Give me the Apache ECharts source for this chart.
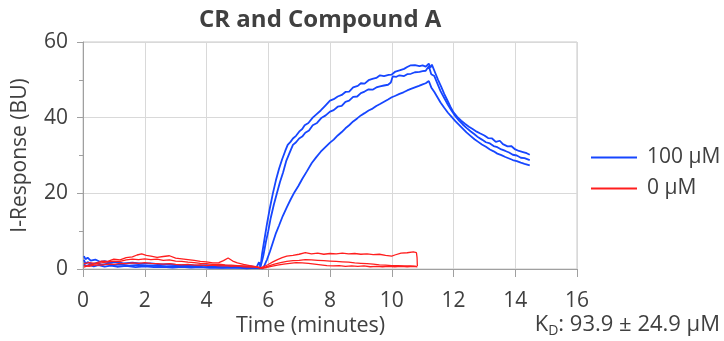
<!DOCTYPE html>
<html>
<head>
<meta charset="utf-8">
<script src="https://cdn.jsdelivr.net/npm/echarts@6/dist/echarts.min.js"></script>
<style>
  html, body { margin: 0; padding: 0; background: #fff; }
  #chart { width: 724px; height: 341px; }
</style>
</head>
<body>
<div id="chart"></div>
<script>
// axis ticks
const xTicks = [0, 2, 4, 6, 8, 10, 12, 14, 16];
const yTicks = [0, 20, 40, 60];

// 100 µM replicates, [time (min), response (BU)]
const blue1 = [[0.03,3.4],[0.08,2.6],[0.15,3.0],[0.25,2.2],[0.4,2.5],[0.55,1.9],[0.7,2.1],[0.9,1.6],[1.1,1.9],[1.3,1.5],[1.6,1.7],[1.9,1.4],[2.2,1.5],[2.5,1.2],[2.8,1.3],[3.1,1.0],[3.4,1.1],[3.7,0.9],[4.0,1.0],[4.3,0.8],[4.6,0.9],[4.9,0.7],[5.2,0.6],[5.45,0.7],[5.62,0.4],[5.7,1.8],[5.75,0.6],[5.8,4],[5.88,8],[5.96,12],[6.05,16],[6.15,20],[6.25,23.5],[6.35,26.5],[6.45,29],[6.55,31.2],[6.63,32.8],[6.72,33.6],[6.8,34.5],[6.9,35.2],[7.0,36.3],[7.1,37.0],[7.18,38.0],[7.3,38.6],[7.44,40.0],[7.55,40.8],[7.7,41.9],[7.85,43.2],[8.0,44.5],[8.12,44.9],[8.25,45.6],[8.38,46.0],[8.5,46.8],[8.62,46.9],[8.75,48.0],[8.9,48.4],[9.0,49.1],[9.12,49.0],[9.25,49.9],[9.4,50.3],[9.5,50.5],[9.62,51.2],[9.75,51.0],[9.9,51.3],[10.0,51.4],[10.12,52.2],[10.25,52.5],[10.4,52.9],[10.5,53.4],[10.6,53.8],[10.75,53.9],[10.9,53.6],[11.0,53.8],[11.1,53.5],[11.2,54.3],[11.25,53.2],[11.3,54.0],[11.4,52.0],[11.5,50.0],[11.6,48.2],[11.7,46.3],[11.8,44.6],[11.9,42.9],[12.0,41.4],[12.12,40.2],[12.25,39.2],[12.37,38.4],[12.5,37.6],[12.62,37.0],[12.75,36.3],[12.87,35.8],[13.0,35.3],[13.12,34.6],[13.25,34.5],[13.37,33.6],[13.5,33.9],[13.6,33.0],[13.75,32.4],[13.87,32.5],[14.0,31.6],[14.12,31.2],[14.25,30.9],[14.37,30.6],[14.47,30.2]];
const blue2 = [[0.03,2.4],[0.08,1.4],[0.15,1.8],[0.3,1.3],[0.45,1.6],[0.6,1.1],[0.8,1.4],[1.0,1.0],[1.2,1.2],[1.5,0.9],[1.8,1.1],[2.1,0.8],[2.4,0.9],[2.7,0.7],[3.0,0.8],[3.3,0.6],[3.6,0.7],[3.9,0.5],[4.2,0.6],[4.5,0.4],[4.8,0.5],[5.1,0.4],[5.4,0.3],[5.6,0.4],[5.72,0.2],[5.78,1.5],[5.84,3.5],[5.92,7],[6.0,10],[6.08,13.5],[6.18,17],[6.28,20],[6.38,23],[6.48,25.5],[6.58,28.5],[6.68,30.5],[6.8,32.8],[6.9,33.5],[7.0,34.5],[7.1,35.0],[7.2,36.0],[7.32,36.6],[7.44,38.0],[7.58,38.6],[7.73,40.0],[7.86,40.6],[8.0,41.6],[8.12,42.0],[8.25,42.9],[8.38,43.1],[8.5,44.2],[8.62,44.5],[8.75,45.5],[8.88,45.6],[9.0,46.5],[9.12,46.9],[9.25,47.5],[9.38,47.4],[9.5,48.0],[9.62,48.3],[9.75,48.5],[9.88,48.7],[9.97,49.3],[10.03,50.9],[10.15,50.8],[10.25,51.2],[10.4,51.0],[10.5,51.5],[10.62,51.6],[10.75,52.0],[10.9,52.1],[11.0,52.3],[11.1,52.4],[11.2,53.6],[11.28,51.5],[11.38,51.0],[11.48,49.0],[11.58,47.0],[11.7,45.2],[11.82,43.4],[11.94,41.8],[12.06,40.4],[12.18,39.2],[12.3,38.2],[12.42,37.3],[12.55,36.4],[12.68,35.6],[12.8,34.8],[12.92,34.2],[13.05,33.5],[13.18,33.2],[13.3,32.5],[13.42,32.2],[13.55,31.6],[13.68,31.2],[13.8,30.8],[13.92,30.2],[14.05,30.0],[14.18,29.4],[14.3,29.3],[14.47,28.8]];
const blue3 = [[0.03,1.2],[0.1,0.8],[0.2,1.1],[0.35,0.7],[0.5,1.0],[0.7,0.6],[0.9,0.9],[1.1,0.6],[1.4,0.8],[1.7,0.5],[2.0,0.7],[2.3,0.5],[2.6,0.6],[2.9,0.4],[3.2,0.6],[3.5,0.4],[3.8,0.5],[4.1,0.3],[4.4,0.4],[4.7,0.3],[5.0,0.4],[5.3,0.2],[5.6,0.3],[5.82,0.2],[5.88,1.0],[5.96,2.5],[6.05,4.5],[6.15,7.0],[6.25,9.5],[6.35,11.5],[6.47,14.0],[6.6,16.3],[6.72,18.3],[6.85,20.3],[6.98,22.0],[7.1,23.8],[7.25,25.8],[7.41,28.0],[7.55,29.5],[7.7,31.0],[7.85,32.2],[8.0,33.4],[8.12,34.2],[8.25,35.3],[8.38,36.2],[8.5,37.2],[8.62,38.0],[8.75,39.0],[8.88,39.8],[9.0,40.6],[9.12,41.2],[9.25,41.9],[9.38,42.4],[9.5,43.1],[9.62,43.6],[9.75,44.2],[9.88,44.8],[10.0,45.4],[10.12,45.8],[10.25,46.3],[10.38,46.7],[10.5,47.2],[10.62,47.6],[10.75,48.0],[10.88,48.4],[11.0,48.8],[11.1,49.1],[11.2,49.7],[11.28,48.0],[11.38,46.8],[11.48,45.4],[11.58,44.0],[11.7,42.6],[11.82,41.3],[11.94,40.2],[12.06,39.1],[12.18,38.1],[12.3,37.1],[12.42,36.1],[12.55,35.2],[12.68,34.3],[12.8,33.6],[12.92,32.9],[13.05,32.3],[13.18,31.6],[13.3,31.1],[13.42,30.5],[13.55,30.1],[13.68,29.6],[13.8,29.2],[13.92,28.8],[14.05,28.5],[14.18,28.1],[14.3,27.8],[14.47,27.4]];

// 0 µM replicates
const red1 = [[0.03,1.4],[0.2,1.7],[0.4,1.5],[0.6,2.1],[0.8,2.0],[1.0,2.6],[1.2,2.4],[1.4,3.0],[1.6,3.2],[1.75,3.7],[1.9,4.0],[2.05,3.6],[2.2,3.4],[2.4,3.1],[2.6,3.3],[2.8,3.5],[3.0,2.9],[3.2,2.7],[3.4,2.5],[3.6,2.3],[3.8,2.0],[4.0,1.9],[4.2,1.6],[4.4,1.7],[4.55,2.2],[4.7,2.9],[4.85,2.1],[5.0,1.6],[5.2,1.2],[5.4,0.9],[5.6,0.6],[5.75,0.3],[5.85,0.6],[6.0,1.2],[6.15,1.9],[6.3,2.5],[6.45,3.0],[6.6,3.4],[6.8,3.6],[7.0,3.9],[7.2,4.3],[7.4,4.0],[7.6,4.2],[7.8,3.9],[8.0,4.1],[8.2,4.0],[8.4,4.2],[8.6,4.0],[8.8,4.1],[9.0,3.9],[9.2,4.0],[9.4,3.8],[9.6,3.9],[9.8,3.6],[10.0,3.4],[10.1,3.7],[10.3,4.2],[10.5,4.3],[10.7,4.5],[10.8,4.3],[10.82,3.0],[10.83,0.8]];
const red2 = [[0.03,0.5],[0.2,1.0],[0.4,1.4],[0.6,1.6],[0.8,1.9],[1.0,2.1],[1.2,2.0],[1.4,2.4],[1.6,2.6],[1.8,2.5],[2.0,2.7],[2.2,2.5],[2.4,2.6],[2.6,2.3],[2.8,2.4],[3.0,2.1],[3.2,2.0],[3.4,1.8],[3.6,1.7],[3.8,1.5],[4.0,1.4],[4.2,1.2],[4.4,1.3],[4.6,1.1],[4.8,1.0],[5.0,0.9],[5.2,0.8],[5.4,0.7],[5.6,0.5],[5.78,0.2],[5.9,0.5],[6.05,0.9],[6.2,1.3],[6.4,1.7],[6.6,2.0],[6.8,2.2],[7.0,2.3],[7.2,2.5],[7.4,2.4],[7.6,2.3],[7.8,2.2],[8.0,2.1],[8.2,2.0],[8.4,1.9],[8.6,1.8],[8.8,1.6],[9.0,1.5],[9.2,1.4],[9.4,1.3],[9.6,1.1],[9.8,1.0],[10.0,0.9],[10.2,0.9],[10.4,0.8],[10.6,0.8],[10.8,0.7]];
const red3 = [[0.03,0.9],[0.2,0.7],[0.4,1.1],[0.6,1.0],[0.8,1.3],[1.0,1.2],[1.2,1.5],[1.4,1.4],[1.6,1.6],[1.8,1.5],[2.0,1.7],[2.2,1.5],[2.4,1.4],[2.6,1.3],[2.8,1.4],[3.0,1.2],[3.2,1.1],[3.4,1.2],[3.6,1.0],[3.8,1.1],[4.0,0.9],[4.2,1.0],[4.4,0.8],[4.6,0.9],[4.8,0.7],[5.0,0.8],[5.2,0.6],[5.4,0.5],[5.6,0.6],[5.8,0.2],[5.95,0.4],[6.1,0.7],[6.3,1.0],[6.5,1.3],[6.7,1.5],[6.9,1.7],[7.1,1.6],[7.3,1.5],[7.5,1.3],[7.7,1.1],[7.9,0.9],[8.1,0.8],[8.3,0.9],[8.5,0.7],[8.7,0.8],[8.9,0.7],[9.1,0.8],[9.3,0.6],[9.5,0.7],[9.7,0.6],[9.9,0.7],[10.1,0.6],[10.3,0.7],[10.5,0.6],[10.7,0.7],[10.83,0.6]];

const blueColor = '#1646ff';
const redColor = '#ff1e1e';
const textColor = '#404040';
const font = '"Open Sans", "Noto Sans", sans-serif';

const chart = echarts.init(document.getElementById('chart'));

function trace(name, data, color, width) {
  return {
    name,
    type: 'line',
    data,
    symbol: 'none',
    animation: false,
    lineStyle: { color, width },
    itemStyle: { color },
  };
}

chart.setOption({
  animation: false,
  title: {
    text: 'CR and Compound A',
    left: 194,
    top: 3,
    textStyle: { fontFamily: font, fontSize: 24, fontWeight: 'bold', color: textColor },
  },
  grid: { left: 83, top: 42, width: 494, height: 227, show: true, borderColor: '#c8c8c8', borderWidth: 1 },
  xAxis: {
    type: 'value',
    min: xTicks[0],
    max: xTicks[xTicks.length - 1],
    interval: 2,
    axisLine: { show: true, lineStyle: { color: '#a0a0a0' } },
    axisTick: { show: true, length: 8, lineStyle: { color: '#a0a0a0' } },
    axisLabel: { margin: 22, fontFamily: font, fontSize: 21, color: textColor },
    splitLine: { show: true, lineStyle: { color: '#d9d9d9' } },
  },
  yAxis: {
    type: 'value',
    min: yTicks[0],
    max: yTicks[yTicks.length - 1],
    interval: 20,
    name: 'I-Response (BU)',
    nameLocation: 'middle',
    nameGap: 52,
    nameTextStyle: { fontFamily: font, fontSize: 21, color: textColor },
    axisLine: { show: true, lineStyle: { color: '#a0a0a0' } },
    axisTick: { show: true, length: 6, lineStyle: { color: '#a0a0a0' } },
    minorTick: { show: true, splitNumber: 2, length: 4, lineStyle: { color: '#a0a0a0' } },
    axisLabel: { margin: 15, fontFamily: font, fontSize: 21, color: textColor },
    splitLine: { show: true, lineStyle: { color: '#d9d9d9' } },
  },
  legend: {
    orient: 'vertical',
    left: 586,
    top: 142,
    itemWidth: 46,
    itemHeight: 2,
    itemGap: 10,
    icon: 'rect',
    data: ['100 µM', '0 µM'],
    textStyle: { fontFamily: font, fontSize: 21, color: textColor, padding: [0, 0, 0, 5] },
  },
  graphic: [
    {
      type: 'text',
      left: 236,
      top: 315,
      style: { text: 'Time (minutes)', font: '21.5px ' + font, fill: textColor },
    },
    {
      type: 'text',
      right: 4,
      top: 314,
      style: {
        text: '{k|K}{s|D}{k|: 93.9 ± 24.9 µM}',
        rich: {
          k: { fontFamily: font, fontSize: 22, fill: textColor, color: textColor },
          s: { fontFamily: font, fontSize: 14, fill: textColor, color: textColor, padding: [13, 0, 0, 0] },
        },
      },
    },
  ],
  series: [
    trace('100 µM', blue1, blueColor, 1.8),
    trace('100 µM', blue2, blueColor, 1.8),
    trace('100 µM', blue3, blueColor, 1.8),
    trace('0 µM', red1, redColor, 1.3),
    trace('0 µM', red2, redColor, 1.3),
    trace('0 µM', red3, redColor, 1.3),
  ],
});
</script>
</body>
</html>
